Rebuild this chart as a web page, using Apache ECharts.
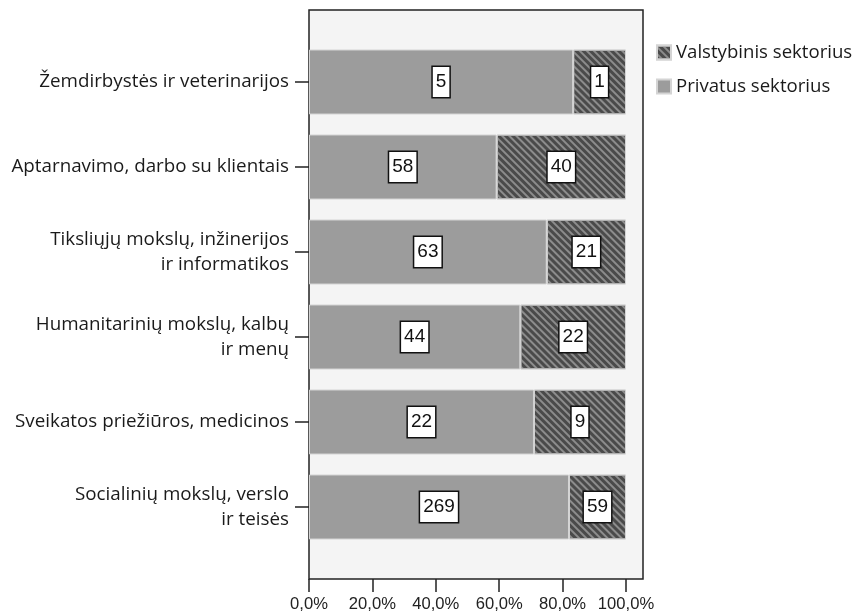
<!DOCTYPE html>
<html>
<head>
<meta charset="utf-8">
<script src="https://cdn.jsdelivr.net/npm/echarts@6/dist/echarts.min.js"></script>
<style>html,body{margin:0;padding:0;background:#fff}#c{width:858px;height:614px}</style>
</head>
<body>
<div id="c"></div>
<script>
const categories = [
  "Žemdirbystės ir veterinarijos",
  "Aptarnavimo, darbo su klientais",
  "Tiksliųjų mokslų, inžinerijos\nir informatikos",
  "Humanitarinių mokslų, kalbų\nir menų",
  "Sveikatos priežiūros, medicinos",
  "Socialinių mokslų, verslo\nir teisės"
];
const privatus = [5, 58, 63, 44, 22, 269];
const valstybinis = [1, 40, 21, 22, 9, 59];
const seriesNames = ["Privatus sektorius", "Valstybinis sektorius"];
const xTicks = [0, 20, 40, 60, 80, 100];

const totals = privatus.map((v, i) => v + valstybinis[i]);
const pct = arr => arr.map((v, i) => ({ value: v / totals[i] * 100, count: v }));

const chart = echarts.init(document.getElementById('c'));
const labelStyle = {
  show: true,
  position: 'inside',
  formatter: p => String(p.data.count),
  backgroundColor: '#fff',
  borderColor: '#111',
  borderWidth: 1.5,
  padding: [6, 3, 5, 3],
  fontSize: 19,
  fontFamily: 'Liberation Sans, Arial, sans-serif',
  color: '#111'
};
chart.setOption({
  animation: false,
  textStyle: { fontFamily: 'Open Sans, sans-serif' },
  graphic: [{
    type: 'rect', z: -10,
    shape: { x: 309, y: 10, width: 334, height: 569 },
    style: { fill: '#f4f4f4', stroke: '#222', lineWidth: 1.5 }
  }],
  legend: {
    orient: 'vertical', left: 651, top: 38,
    itemWidth: 14, itemHeight: 14, itemGap: 15,
    data: [seriesNames[1], seriesNames[0]],
    textStyle: { fontSize: 18.6, color: '#1a1a1a', fontFamily: 'Open Sans, sans-serif' },
    icon: 'rect'
  },
  grid: { left: 309, right: 232, top: 39.5, height: 510, containLabel: false },
  xAxis: {
    type: 'value', min: 0, max: 100, interval: 20,
    offset: 29.5,
    axisLine: { show: false },
    axisTick: { show: true, length: 13, lineStyle: { color: '#222', width: 1.5 } },
    splitLine: { show: false },
    axisLabel: {
      margin: 17, fontSize: 16.6, color: '#222',
      fontFamily: 'Liberation Sans, Arial, sans-serif',
      formatter: v => v.toFixed(1).replace('.', ',') + '%'
    }
  },
  yAxis: {
    type: 'category', inverse: true, data: categories,
    axisLine: { show: false },
    axisTick: { show: true, length: 14, alignWithLabel: true, lineStyle: { color: '#222', width: 1.5 } },
    axisLabel: {
      margin: 20, fontSize: 18.8, color: '#1a1a1a', lineHeight: 25, align: 'right',
      fontFamily: 'Open Sans, sans-serif'
    }
  },
  series: [
    {
      name: seriesNames[0], type: 'bar', stack: 'a', barWidth: 65,
      data: pct(privatus),
      itemStyle: { color: '#9c9c9c', borderColor: '#d4d4d4', borderWidth: 1 },
      label: labelStyle
    },
    {
      name: seriesNames[1], type: 'bar', stack: 'a', barWidth: 65,
      data: pct(valstybinis),
      itemStyle: {
        color: '#4a4a4a', borderColor: '#d4d4d4', borderWidth: 1,
        decal: { symbol: 'rect', symbolSize: 1, color: '#8c8c8c', dashArrayX: [1, 0], dashArrayY: [1.6, 2.2], rotation: Math.PI / 4 }
      },
      label: labelStyle
    }
  ]
});
</script>
</body>
</html>
